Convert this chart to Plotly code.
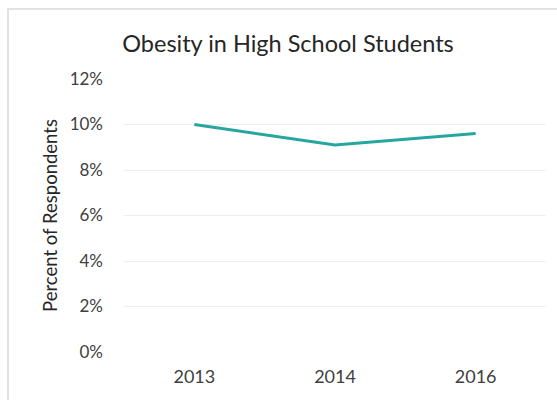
import plotly.graph_objects as go

# Survey years and share of students classified as obese (percent)
years = ["2013", "2014", "2016"]
obesity_pct = [10.0, 9.1, 9.6]
y_ticks = [0, 2, 4, 6, 8, 10, 12]
y_tick_labels = [f"{v}%" for v in y_ticks]

fig = go.Figure()
fig.add_trace(go.Scatter(
    x=years,
    y=obesity_pct,
    mode="lines",
    line=dict(color="#26A69E", width=3),
    showlegend=False,
))

font_family = "Lato, 'Open Sans', sans-serif"

fig.update_layout(
    width=557,
    height=400,
    paper_bgcolor="white",
    plot_bgcolor="white",
    margin=dict(l=124, r=11, t=79, b=48),
    title=dict(
        text="Obesity in High School Students",
        x=(288 / 557), xanchor="center",
        y=1 - 44 / 400, yanchor="middle",
        font=dict(family=font_family, size=23.5, color="#262626"),
    ),
    xaxis=dict(
        type="category",
        range=[-0.5, 2.5],
        showgrid=False,
        zeroline=False,
        showline=False,
        ticks="",
        ticklabelstandoff=12,
        tickfont=dict(family=font_family, size=18, color="#404040"),
    ),
    yaxis=dict(
        range=[0, 12],
        tickvals=y_ticks,
        ticktext=y_tick_labels,
        showgrid=True,
        gridcolor="#EFEFEF",
        gridwidth=1,
        zeroline=False,
        showline=False,
        ticks="",
        ticklabelstandoff=20,
        tickfont=dict(family=font_family, size=17, color="#404040"),
        title=dict(
            text="Percent of Respondents",
            standoff=7,
            font=dict(family=font_family, size=18.5, color="#262626"),
        ),
    ),
    shapes=[
        # outer chart frame
        dict(
            type="rect", xref="paper", yref="paper",
            x0=(8 - 124) / 422, x1=(570 - 124) / 422,
            y0=(352 - 410) / 273, y1=(352 - 9) / 273,
            line=dict(color="#D9D9D9", width=1.5),
            fillcolor="rgba(0,0,0,0)",
            layer="below",
        )
    ],
)

fig.write_html("out.html")
